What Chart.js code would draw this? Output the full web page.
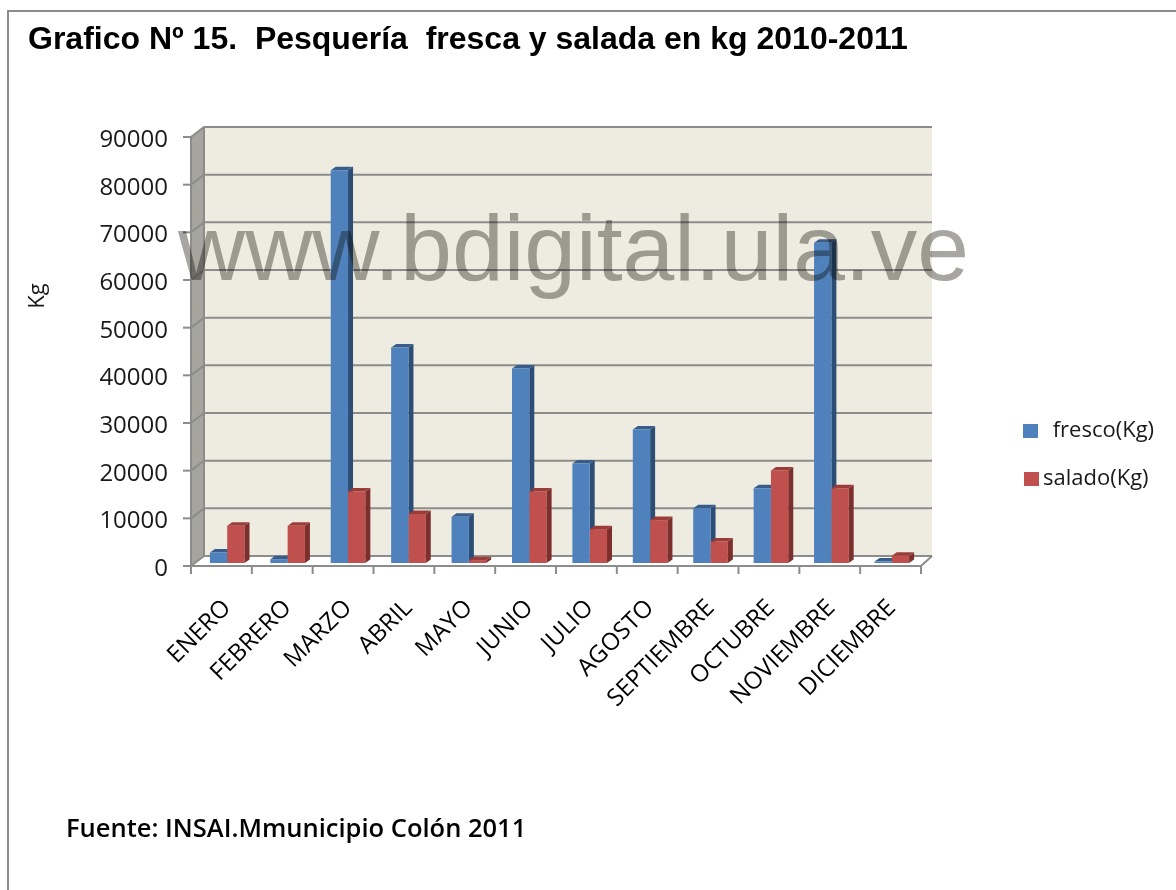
<!DOCTYPE html>
<html lang="es">
<head>
<meta charset="utf-8">
<title>Pesquería fresca y salada 2010-2011</title>
<script src="https://cdn.jsdelivr.net/npm/chart.js@4.4.1/dist/chart.umd.min.js"></script>
<style>
  html, body { margin: 0; padding: 0; background: #fff; }
  body { width: 1176px; height: 890px; position: relative; overflow: hidden; }
  #frame {
    position: absolute; left: 7px; top: 10px; width: 1200px; height: 900px;
    border: 2px solid #8c8c8c; box-sizing: border-box;
  }
  #title {
    position: absolute; left: 28px; top: 20px; white-space: pre;
    font: bold 32px "Liberation Sans", Arial, sans-serif; color: #000;
  }
  #source {
    position: absolute; left: 66px; top: 810px; white-space: pre;
    font: 600 25.5px "Open Sans", sans-serif; color: #000;
  }
  #chart { position: absolute; left: 0; top: 0; }
</style>
</head>
<body>
<div id="frame"></div>
<canvas id="chart" width="1176" height="890"></canvas>
<div id="title">Grafico Nº 15.  Pesquería  fresca y salada en kg 2010-2011</div>
<div id="source">Fuente: INSAI.Mmunicipio Colón 2011</div>

<script>
(function () {
  "use strict";

  /* ── Data ─────────────────────────────────────────────────── */
  var meses = ["ENERO", "FEBRERO", "MARZO", "ABRIL", "MAYO", "JUNIO",
               "JULIO", "AGOSTO", "SEPTIEMBRE", "OCTUBRE", "NOVIEMBRE", "DICIEMBRE"];
  var fresco = [2200, 800, 82400, 45200, 9700, 40800,
                20900, 28000, 11500, 15700, 67200, 300];
  var salado = [7800, 7800, 15000, 10300, 600, 15000,
                7100, 9000, 4500, 19400, 15700, 1500];
  var yTicks = [0, 10000, 20000, 30000, 40000, 50000, 60000, 70000, 80000, 90000];

  var FONT = "'Open Sans', sans-serif";

  /* depth of the bars and of the walls (px) */
  var BAR_DX = 5, BAR_DY = 3.5;
  var WALL = { frontL: 191, frontR: 921, backL: 204, backR: 932, frontDy: 3, backDy: -7 };

  var faces = {
    fresco: { side: "#2c4d75", top: "#385d8a" },
    salado: { side: "#7d2f2d", top: "#9c3c39" }
  };

  // side + top faces of every bar of one dataset
  function drawFaces(chart, index) {
    var ctx = chart.ctx;
    var ds = chart.data.datasets[index];
    var f = faces[ds.key];
    ctx.save();
    chart.getDatasetMeta(index).data.forEach(function (bar) {
      var p = bar.getProps(["x", "y", "base", "width"], true);
      var x0 = p.x - p.width / 2, x1 = p.x + p.width / 2;
      ctx.fillStyle = f.side;
      ctx.beginPath();
      ctx.moveTo(x1, p.y);
      ctx.lineTo(x1 + BAR_DX, p.y - BAR_DY);
      ctx.lineTo(x1 + BAR_DX, p.base - BAR_DY);
      ctx.lineTo(x1, p.base);
      ctx.closePath();
      ctx.fill();
      ctx.fillStyle = f.top;
      ctx.beginPath();
      ctx.moveTo(x0, p.y);
      ctx.lineTo(x1, p.y);
      ctx.lineTo(x1 + BAR_DX, p.y - BAR_DY);
      ctx.lineTo(x0 + BAR_DX, p.y - BAR_DY);
      ctx.closePath();
      ctx.fill();
    });
    ctx.restore();
  }

  /* ── Walls, floor and grid behind the bars ─────────────────── */
  var walls = {
    id: "walls",
    beforeDatasetsDraw: function (chart) {
      var ctx = chart.ctx, y = chart.scales.y, x = chart.scales.x;
      var yTop = y.getPixelForValue(y.max), yBase = y.getPixelForValue(0);
      var fL = WALL.frontL, fR = WALL.frontR, bL = WALL.backL, bR = WALL.backR;
      var fd = WALL.frontDy, bd = WALL.backDy;
      ctx.save();

      // back wall
      ctx.fillStyle = "#eeece1";
      ctx.fillRect(bL, yTop + bd, bR - bL, yBase - yTop);

      // side wall
      ctx.fillStyle = "#a6a59d";
      ctx.beginPath();
      ctx.moveTo(fL, yTop + fd);
      ctx.lineTo(bL, yTop + bd);
      ctx.lineTo(bL, yBase + bd);
      ctx.lineTo(fL, yBase + fd);
      ctx.closePath();
      ctx.fill();

      // floor
      ctx.fillStyle = "#ffffff";
      ctx.beginPath();
      ctx.moveTo(fL, yBase + fd);
      ctx.lineTo(bL, yBase + bd);
      ctx.lineTo(bR, yBase + bd);
      ctx.lineTo(fR, yBase + fd);
      ctx.closePath();
      ctx.fill();

      // grid lines across side wall and back wall
      ctx.strokeStyle = "#8c8c8c";
      ctx.lineWidth = 2;
      yTicks.forEach(function (v) {
        var p = y.getPixelForValue(v);
        ctx.beginPath();
        ctx.moveTo(fL, p + fd);
        ctx.lineTo(bL, p + bd);
        ctx.lineTo(bR, p + bd);
        ctx.stroke();
        ctx.beginPath();
        ctx.moveTo(fL - 8, p + fd);
        ctx.lineTo(fL, p + fd);
        ctx.stroke();
      });

      // outline of the side wall and floor
      ctx.beginPath();
      ctx.moveTo(fL, yTop + fd);
      ctx.lineTo(fL, yBase + fd);
      ctx.lineTo(fR, yBase + fd);
      ctx.lineTo(bR, yBase + bd);
      ctx.stroke();
      ctx.beginPath();
      ctx.moveTo(bL, yTop + bd);
      ctx.lineTo(bL, yBase + bd);
      ctx.stroke();

      // category ticks on the front floor edge
      var n = x.ticks.length;
      for (var i = 0; i <= n; i++) {
        var tx = fL + (fR - fL) * i / n;
        ctx.beginPath();
        ctx.moveTo(tx, yBase + fd);
        ctx.lineTo(tx, yBase + fd + 8);
        ctx.stroke();
      }
      ctx.restore();

      // fresco faces go down before any bar front, salado's after all
      drawFaces(chart, 0);
    },
    afterDatasetsDraw: function (chart) {
      drawFaces(chart, 1);
    }
  };

  /* ── Legend, axis title and watermark ──────────────────────── */
  var extras = {
    id: "extras",
    afterDraw: function (chart) {
      var ctx = chart.ctx;
      ctx.save();

      // legend
      var rows = [{ x: 1023, y: 431, tx: 1047 }, { x: 1024, y: 479, tx: 1043 }];
      chart.data.datasets.forEach(function (ds, i) {
        var r = rows[i];
        ctx.fillStyle = ds.backgroundColor;
        ctx.fillRect(r.x, r.y - 7, 15, 14);
        ctx.fillStyle = "#1a1a1a";
        ctx.font = "22px " + FONT;
        ctx.textAlign = "left";
        ctx.textBaseline = "middle";
        ctx.fillText(ds.label, r.tx, r.y);
      });

      // y axis title
      ctx.translate(38, 296);
      ctx.rotate(-Math.PI / 2);
      ctx.fillStyle = "#1a1a1a";
      ctx.font = "22px " + FONT;
      ctx.textAlign = "center";
      ctx.textBaseline = "middle";
      ctx.fillText("Kg", 0, 0);
      ctx.setTransform(1, 0, 0, 1, 0, 0);

      // watermark
      ctx.globalCompositeOperation = "multiply";
      ctx.fillStyle = "rgb(168,166,162)";
      ctx.font = "93px 'Liberation Sans', Arial, sans-serif";
      ctx.textAlign = "left";
      ctx.textBaseline = "alphabetic";
      ctx.fillText("www.bdigital.ula.ve", 178, 280);
      ctx.restore();
    }
  };

  Chart.defaults.font.family = FONT;
  Chart.defaults.color = "#1a1a1a";

  new Chart(document.getElementById("chart"), {
    type: "bar",
    data: {
      labels: meses,
      datasets: [{
        key: "fresco",
        label: " fresco(Kg)",
        data: fresco,
        backgroundColor: "#4f81bd",
        borderWidth: 0
      }, {
        key: "salado",
        label: "salado(Kg)",
        data: salado,
        backgroundColor: "#c0504d",
        borderWidth: 0
      }]
    },
    options: {
      responsive: false,
      animation: false,
      devicePixelRatio: 1,
      layout: { padding: { left: 0, right: 254, top: 134, bottom: 0 } },
      categoryPercentage: 0.573,
      barPercentage: 1,
      plugins: {
        legend: { display: false },
        tooltip: { enabled: false }
      },
      scales: {
        x: {
          grid: { display: false, drawTicks: false },
          border: { display: false },
          ticks: {
            autoSkip: false,
            minRotation: 45,
            maxRotation: 45,
            padding: 31,
            font: { size: 24 },
            color: "#000"
          },
          afterFit: function (scale) { scale.height = 327; }
        },
        y: {
          min: 0,
          max: 90000,
          grid: { display: false, drawTicks: false },
          border: { display: false },
          ticks: {
            stepSize: 10000,
            padding: 29,
            labelOffset: 6,
            font: { size: 24 },
            color: "#1a1a1a",
            callback: function (v) { return String(v); }
          },
          afterFit: function (scale) { scale.width = 197; }
        }
      }
    },
    plugins: [walls, extras]
  });
})();
</script>
</body>
</html>
